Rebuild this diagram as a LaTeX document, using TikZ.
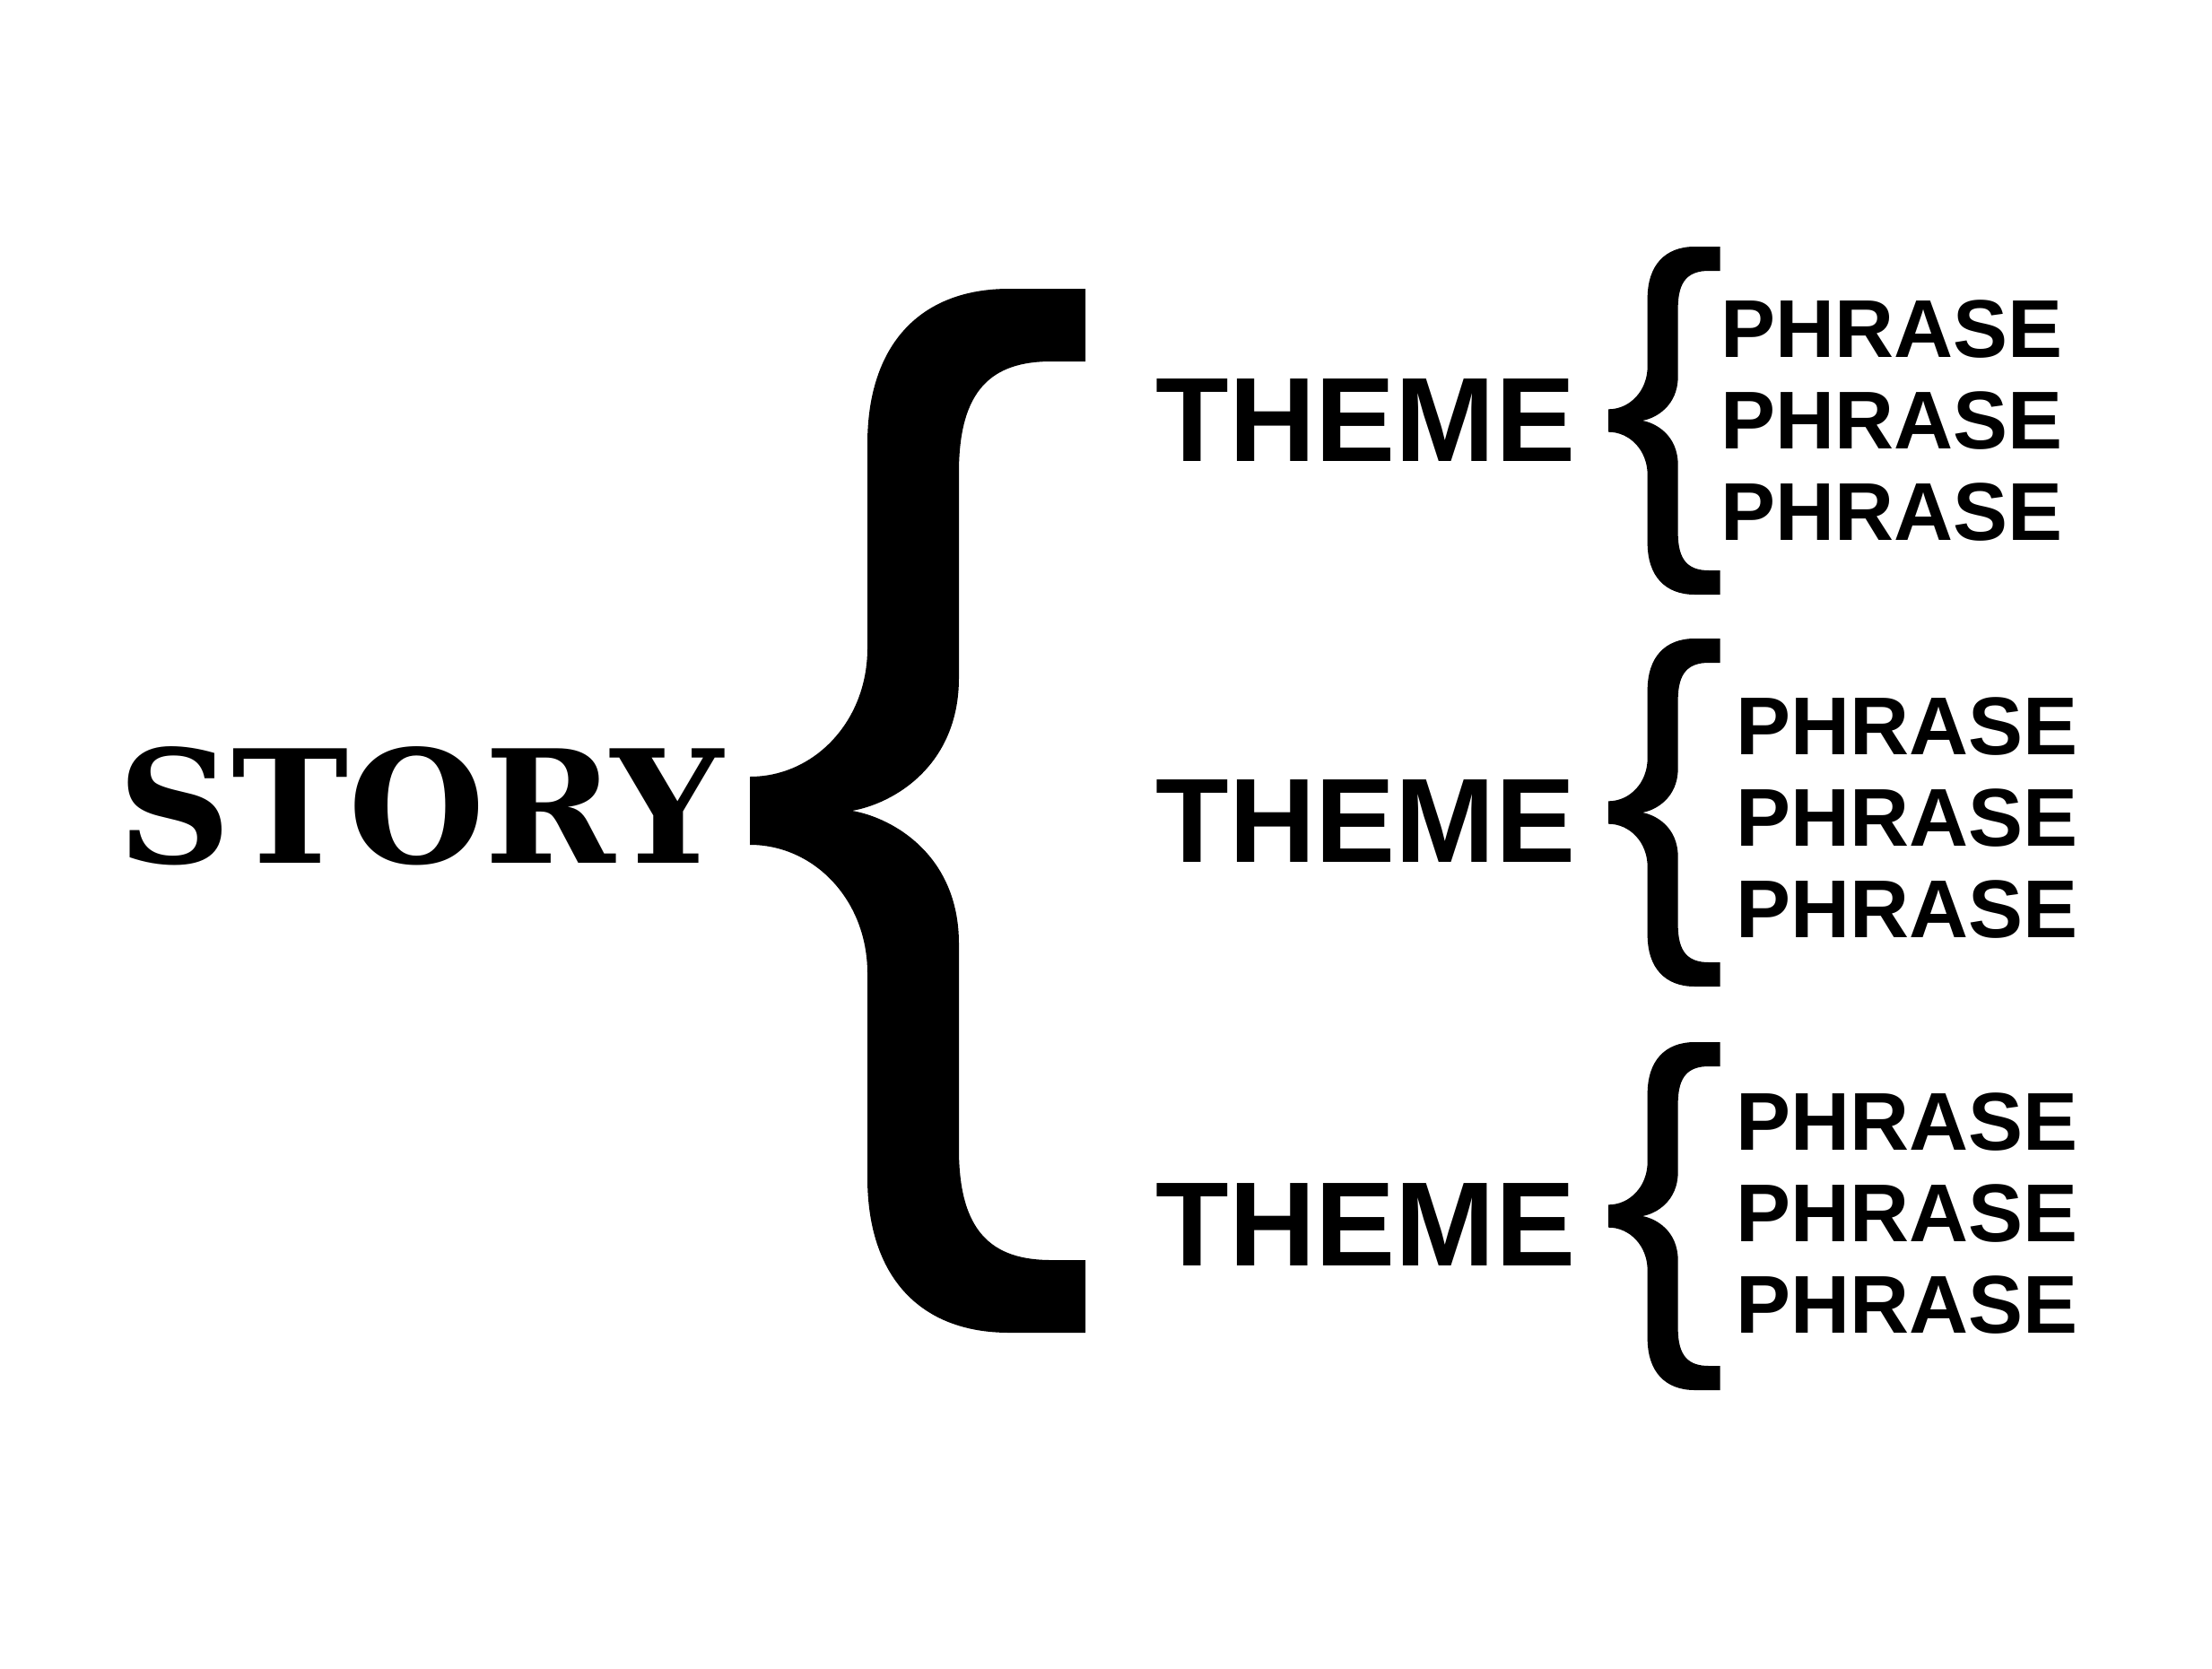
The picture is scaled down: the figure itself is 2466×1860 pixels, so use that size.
\documentclass[tikz,border=0pt]{standalone}
\usepackage{fontspec}
\setmainfont{Liberation Sans}
\newfontfamily\storyfont{DejaVu Serif}
\begin{document}
\begin{tikzpicture}[x=0.01cm, y=-0.01cm,
	story/.style={anchor=base west, inner sep=0pt, font=\storyfont\bfseries\fontsize{49.8pt}{60pt}\selectfont},
	theme/.style={anchor=base west, inner sep=0pt, font=\bfseries\fontsize{38pt}{45pt}\selectfont},
	phrase/.style={anchor=base west, inner sep=0pt, font=\bfseries\fontsize{26pt}{30pt}\selectfont},
	brace/.pic={
		\fill[black] (0,-38) .. controls (72,-38) and (131,-100) .. (131,-181)
			-- (131,-409) .. controls (131,-520) and (190,-582) .. (289,-582)
			-- (374,-582) -- (374,-501) -- (336,-501)
			.. controls (270,-501) and (233,-470) .. (233,-377)
			-- (233,-148) .. controls (233,-50) and (160,-8) .. (114,0)
			.. controls (160,8) and (233,50) .. (233,148)
			-- (233,377) .. controls (233,470) and (270,501) .. (336,501)
			-- (374,501) -- (374,582) -- (289,582)
			.. controls (190,582) and (131,520) .. (131,409)
			-- (131,181) .. controls (131,100) and (72,38) .. (0,38) -- cycle;
	}]
	\useasboundingbox (0,0) rectangle (2466,1860);
	\node[story] (story) at (131,962) {STORY};
	\pic at (836,904) {brace};
	\node[theme] (theme1) at (1288,514) {THEME};
	\node[theme] (theme2) at (1288,961) {THEME};
	\node[theme] (theme3) at (1288,1411) {THEME};
	\pic[scale=1/3] at (1793,469) {brace};
	\pic[scale=1/3] at (1793,906) {brace};
	\pic[scale=1/3] at (1793,1356) {brace};
	\foreach \g/\x/\y in {1/1918/398, 2/1935/841, 3/1935/1282}
		\foreach \i in {0,1,2}
			\node[phrase] (phrase\g\i) at (\x,{\y+102*\i}) {PHRASE};
\end{tikzpicture}
\end{document}
